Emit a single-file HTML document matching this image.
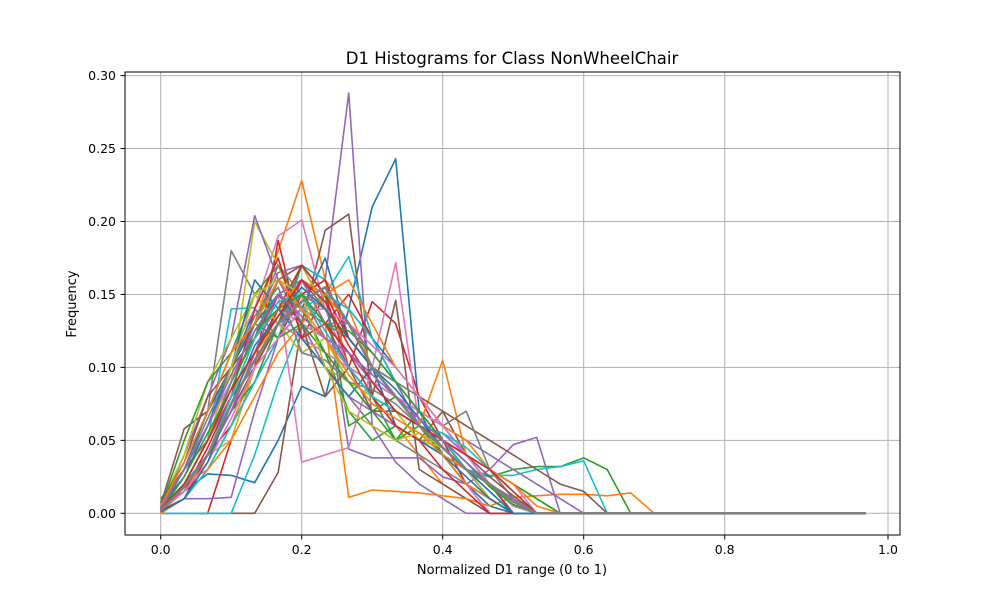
<!DOCTYPE html>
<html><head><meta charset="utf-8"><style>
body{margin:0;background:#fff;font-family:"Liberation Sans","DejaVu Sans",sans-serif;}
svg text{font-family:"DejaVu Sans","Liberation Sans",sans-serif;}
</style></head><body>
<svg id="chart" width="1000" height="600" viewBox="0 0 1000 600" xmlns="http://www.w3.org/2000/svg">
<rect width="1000" height="600" fill="#fff"/>
<g id="grid"></g>
<g id="lines"></g>
<rect x="125" y="72" width="775" height="463" fill="none" stroke="#000" stroke-width="1"/>
<g id="ticks"></g>
<text x="512" y="64" font-size="16.5" text-anchor="middle">D1 Histograms for Class NonWheelChair</text>
<text x="512" y="574" font-size="13" text-anchor="middle">Normalized D1 range (0 to 1)</text>
<text x="0" y="0" font-size="13" text-anchor="middle" transform="translate(76,304) rotate(-90)">Frequency</text>
</svg>
<script>
const xTicks=[0,0.2,0.4,0.6,0.8,1.0];
const xTickLabels=["0.0","0.2","0.4","0.6","0.8","1.0"];
const yTicks=[0,0.05,0.1,0.15,0.2,0.25,0.3];
const yTickLabels=["0.00","0.05","0.10","0.15","0.20","0.25","0.30"];
const nBins=31;
const s01=[.005,.015,.027,.026,.021,.05,.087,.08,.14,.21,.243,.07,.04,.02,.005,0];
const s02=[0,.02,.05,.09,.13,.18,.228,.16,.1,.08,.06,.04,.02,.01,0];
const s03=[.01,.03,.06,.1,.13,.15,.14,.11,.07,.05,.06,.05,.04,.03,.025,.03,.032,.032,.038,.03,0];
const s04=[0,0,0,.05,.1,.187,.12,.15,.1,.145,.13,.08,.05,.02,0];
const s05=[.002,.02,.05,.09,.13,.165,.17,.16,.288,.06,.035,.02,.01,0];
const s06=[0,0,0,0,0,.028,.13,.194,.205,.08,.146,.03,.02,.01,0];
const s07=[.003,.03,.07,.1,.14,.19,.201,.14,.1,.08,.07,.06,.05,.03,.01,0];
const s08=[.008,.03,.07,.18,.15,.13,.12,.1,.08,.06,.05,.04,.03,.02,.01,0];
const s09=[.003,.02,.05,.09,.2,.17,.13,.1,.09,.08,.07,.06,.04,.02,.01,0];
const s10=[0,0,0,0,.04,.09,.13,.15,.176,.12,.09,.06,.04,.02,.01,0];
const s11=[.004,.03,.06,.1,.14,.12,.14,.175,.12,.1,.08,.06,.04,.03,.02,0];
const s12=[0,.01,.03,.06,.1,.14,.16,.13,.011,.016,.015,.014,.012,.01,.005,.011,.012,.013,.013,.012,.014,0];
const s13=[.005,.03,.07,.11,.15,.17,.14,.11,.1,.08,.05,.06,.05,.04,.03,.02,.01,0];
const s14=[.002,.02,.05,.09,.12,.16,.14,.13,.15,.12,.09,.07,.05,.03,.01,0];
const s15=[.001,.01,.01,.011,.07,.12,.16,.15,.044,.038,.038,.038,.025,.02,.03,.047,.052,0];
const s16=[.006,.058,.07,.1,.13,.16,.17,.14,.12,.1,.06,.05,.07,.04,.02,0];
const s17=[.001,.02,.05,.08,.12,.15,.035,.04,.045,.1,.172,.06,.04,.02,0];
const s18=[.004,.03,.06,.1,.13,.17,.15,.12,.09,.07,.06,.05,.05,.04,.02,.01,0];
const s19=[.002,.02,.04,.05,.1,.13,.17,.14,.12,.1,.08,.06,.04,.02,.01,0];
const s20=[.002,.02,.05,.14,.141,.12,.17,.16,.12,.1,.08,.06,.04,.03,.026,.026,.03,.032,.036,0];
const s21=[.003,.02,.05,.09,.12,.15,.16,.15,.14,.12,.1,.08,.06,.04,.02,.005,0];
const s22=[.001,.015,.04,.08,.11,.13,.15,.16,.14,.1,.08,.06,.105,.04,.02,.01,0];
const s23=[.004,.02,.04,.07,.09,.13,.17,.15,.06,.07,.05,.07,.06,.04,.03,.02,.01,0];
const s24=[.002,.02,.04,.06,.09,.12,.15,.16,.12,.1,.08,.06,.05,.03,.01,0];
const s25=[.003,.04,.08,.12,.204,.16,.13,.1,.08,.07,.06,.05,.04,.02,.01,0];
const s26=[.004,.03,.05,.08,.11,.14,.15,.13,.1,.09,.08,.07,.06,.04,.02,0];
const s27=[.003,.03,.07,.11,.14,.13,.12,.11,.1,.09,.07,.06,.05,.04,.02,0];
const s28=[.002,.02,.04,.07,.1,.13,.15,.14,.12,.1,.09,.07,.06,.04,.03,.01,0];
const s29=[.001,.02,.05,.08,.11,.13,.14,.14,.12,.1,.09,.07,.05,.03,.02,0];
const s30=[.003,.03,.06,.09,.12,.14,.13,.12,.1,.08,.07,.06,.05,.04,.02,0];
const s31=[.002,.03,.07,.1,.13,.15,.13,.12,.1,.09,.08,.06,.05,.03,.02,0];
const s32=[.001,.02,.05,.08,.12,.14,.16,.15,.13,.1,.08,.06,.04,.02,.01,0];
const s33=[.004,.03,.06,.1,.12,.16,.15,.13,.11,.09,.07,.06,.04,.03,.02,0];
const s34=[.002,.01,.04,.07,.11,.14,.17,.15,.12,.1,.08,.06,.05,.03,.02,0];
const s35=[.002,.02,.05,.08,.1,.13,.14,.13,.11,.09,.08,.07,.06,.05,.04,.03,.02,.01,0];
const s36=[.003,.02,.04,.07,.1,.13,.16,.14,.12,.1,.09,.08,.07,.06,.05,.04,.03,.02,.015,0];
const s37=[.004,.03,.06,.09,.12,.14,.13,.12,.1,.09,.08,.07,.06,.04,.03,.02,0];
const s38=[.002,.03,.05,.09,.12,.15,.14,.13,.12,.1,.09,.08,.06,.07,.03,.01,0];
const s39=[.006,.04,.09,.12,.15,.13,.11,.12,.09,.08,.07,.05,.045,.03,.01,0];
const s40=[.001,.01,.03,.06,.09,.12,.14,.15,.14,.12,.09,.07,.05,.03,.015,0];
const s41=[.005,.025,.06,.1,.16,.14,.12,.1,.08,.1,.06,.05,.04,.025,.01,0];
const s42=[.002,.02,.03,.05,.08,.11,.13,.15,.16,.13,.1,.08,.06,.05,.03,.02,.005,0];
const s43=[.004,.05,.09,.11,.13,.12,.13,.11,.09,.07,.08,.065,.05,.035,.02,.005,0];
const s44=[.003,.015,.045,.08,.14,.175,.12,.13,.11,.08,.06,.05,.03,.015,0];
const s45=[.001,.02,.04,.07,.11,.15,.16,.13,.13,.11,.09,.06,.055,.04,.02,.008,0];
const s46=[.007,.035,.08,.1,.12,.15,.13,.08,.1,.07,.07,.06,.05,.04,.025,.012,0];
const s47=[.002,.015,.035,.065,.1,.12,.14,.14,.13,.115,.1,.08,.06,.04,.02,.005,0];
const s48=[.003,.03,.065,.1,.135,.155,.11,.105,.09,.085,.075,.06,.05,.035,.02,.01,0];
const s49=[.002,.02,.05,.1,.15,.16,.15,.1,.07,.06,.05,.055,.045,.03,.02,.01,0];
const s50=[.004,.02,.04,.08,.12,.145,.15,.125,.1,.08,.07,.06,.055,.045,.03,.015,0];
const s51=[.001,.01,.035,.075,.115,.135,.155,.14,.12,.1,.085,.065,.045,.03,.015,0];
const s52=[.005,.035,.07,.11,.13,.16,.14,.12,.095,.075,.065,.055,.04,.03,.02,.008,0];
const s53=[.002,.025,.055,.085,.125,.14,.15,.13,.125,.11,.09,.07,.05,.035,.018,.006,0];
const s54=[.003,.02,.05,.085,.11,.135,.16,.145,.115,.09,.07,.06,.05,.04,.03,.015,0];
const s55=[.004,.03,.06,.095,.125,.15,.135,.12,.11,.095,.08,.065,.05,.035,.02,.01,0];
const s56=[.002,.018,.04,.075,.105,.13,.145,.155,.13,.1,.08,.06,.045,.03,.02,.008,0];
const series=[s01,s02,s03,s04,s05,s06,s07,s08,s09,s10,s11,s12,s13,s14,s15,s16,s17,s18,s19,s20,s21,s22,s23,s24,s25,s26,s27,s28,s29,s30,s31,s32,s33,s34,s35,s36,s37,s38,s39,s40,s41,s42,s43,s44,s45,s46,s47,s48,s49,s50,s51,s52,s53,s54,s55,s56];
const colors=["#1f77b4","#ff7f0e","#2ca02c","#d62728","#9467bd","#8c564b","#e377c2","#7f7f7f","#bcbd22","#17becf"];
const NS="http://www.w3.org/2000/svg";
function xs(v){return 160.7+v*705;}
function ys(v){return 513.3-v*1459;}
const grid=document.getElementById('grid'),ticks=document.getElementById('ticks'),lines=document.getElementById('lines');
function mk(tag,attrs,parent){const e=document.createElementNS(NS,tag);for(const k in attrs)e.setAttribute(k,attrs[k]);parent.appendChild(e);return e;}
xTicks.forEach((t,i)=>{
  const x=(t===1.0)?888:xs(t);
  const g=mk('line',{x1:x,x2:x,y1:72,y2:535,stroke:'#b0b0b0','stroke-width':1},grid);
  
  
  const tk=mk('line',{x1:x,x2:x,y1:535,y2:539.5,stroke:'#000','stroke-width':1},ticks);
  
  
  const tx=mk('text',{x:x,y:554,'font-size':12.5,'text-anchor':'middle'},ticks);
  tx.textContent=xTickLabels[i];
  
  
});
yTicks.forEach((t,i)=>{
  const y=ys(t);
  const g=mk('line',{x1:125,x2:900,y1:y,y2:y,stroke:'#b0b0b0','stroke-width':1},grid);
  
  
  const tk=mk('line',{x1:120.5,x2:125,y1:y,y2:y,stroke:'#000','stroke-width':1},ticks);
  
  
  const tx=mk('text',{x:116,y:y+4.5,'font-size':12.5,'text-anchor':'end'},ticks);
  tx.textContent=yTickLabels[i];
  
  
});
series.forEach((s,k)=>{
  const pts=[];
  for(let i=0;i<nBins;i++){const v=i<s.length?s[i]:0;pts.push(xs(i/(nBins-1)).toFixed(1)+','+ys(v).toFixed(1));}
  const last=(k===series.length-1);
  const p=mk('polyline',{points:pts.join(' '),fill:'none',stroke:last?'#7f7f7f':colors[k%10],'stroke-width':last?2.6:1.6,'stroke-linejoin':'round'},lines);
  
  
});
</script>
</body></html>
